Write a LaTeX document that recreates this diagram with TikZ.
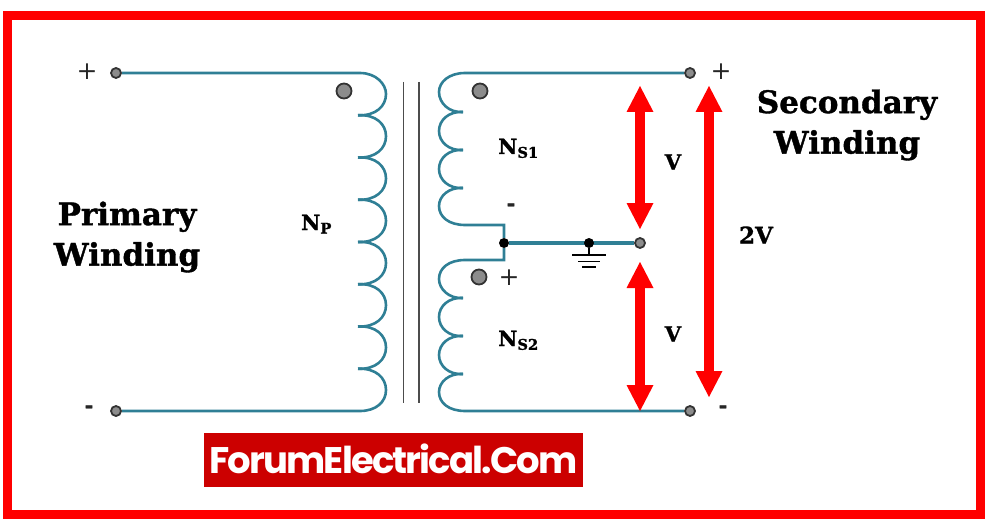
\documentclass[tikz,border=0pt]{standalone}
\usetikzlibrary{backgrounds}
\usepackage{fontspec}
\setmainfont[BoldFeatures={FakeBold=1.2}]{DejaVu Serif}
\newfontfamily\logofont[LetterSpace=-5]{Poppins}
\definecolor{wire}{HTML}{2F7F95}
\definecolor{frame}{HTML}{FF0000}
\definecolor{logo}{HTML}{CC0000}
\tikzset{
  wireline/.style={wire,line width=2.6pt},
  coreline/.style={draw=black!70,line width=1.6pt},
  terminal/.style={circle,draw=black!80,fill=black!45,line width=1.8pt,minimum size=10pt,inner sep=0pt},
  polarity/.style={circle,draw=black!80,fill=black!45,line width=1.8pt,minimum size=15pt,inner sep=0pt},
  junction/.style={circle,fill=black,minimum size=10pt,inner sep=0pt},
  voltarrow/.style={red,line width=9.5pt},
  head/.style={fill=red,draw=none},
  title/.style={font=\bfseries\fontsize{31}{40.5}\selectfont,align=center,inner sep=0pt},
  lab/.style={font=\bfseries\fontsize{21}{24}\selectfont,inner sep=0pt},
  sign/.style={font=\fontsize{25}{25}\selectfont,inner sep=0pt,text=black!85},
  minus/.style={font=\bfseries\fontsize{21}{21}\selectfont,inner sep=0pt,text=black!85},
}
\begin{document}
\begin{tikzpicture}[x=1pt,y=-1pt]
\useasboundingbox (0,0) rectangle (991,532);
\draw[frame,line width=9pt] (7.5,15.5) rectangle (980.5,514);
% terminals
\node[terminal] (pt) at (116,73) {};
\node[terminal] (pb) at (116,411) {};
\node[terminal] (st) at (690,73) {};
\node[terminal] (sb) at (690,411) {};
\node[terminal] (sm) at (640,243) {};
\node[junction] (jc) at (504,243) {};
\node[junction] (gn) at (589,243) {};
\coordinate (gs) at (589,255);
\begin{scope}[on background layer]
% primary
\draw[wireline] (pt) -- (360,73) .. controls (376,73) and (386,84) .. (386,94)
  .. controls (386,106) and (376,116) .. (358,115.25);
\foreach \k in {1,...,6}{
  \pgfmathsetmacro\y{73+42.25*\k}
  \draw[wireline] (358,\y) .. controls (376,\y-1) and (386,\y+9) .. (386,\y+21)
    .. controls (386,\y+33) and (376,\y+43) .. (358,\y+42.25);
}
\draw[wireline] (358,368.75) .. controls (376,368) and (386,378) .. (386,390)
  .. controls (386,402) and (376,411) .. (360,411) -- (pb);
% upper secondary
\draw[wireline] (st) -- (465,73) .. controls (449,73) and (439,82) .. (439,92)
  .. controls (439,103) and (449,113) .. (463,112);
\foreach \y in {112,150}{
  \draw[wireline] (463,\y) .. controls (449,\y-1) and (439,\y+8) .. (439,\y+19)
    .. controls (439,\y+30) and (449,\y+39) .. (463,\y+38);
}
\draw[wireline] (463,188) .. controls (449,187) and (439,196) .. (439,206)
  .. controls (439,217) and (449,225) .. (465,225) -| (jc);
% lower secondary
\draw[wireline] (jc) |- (465,260) .. controls (449,260) and (439,268) .. (439,279)
  .. controls (439,289) and (449,299) .. (463,298);
\foreach \y in {298,336}{
  \draw[wireline] (463,\y) .. controls (449,\y-1) and (439,\y+8) .. (439,\y+19)
    .. controls (439,\y+30) and (449,\y+39) .. (463,\y+38);
}
\draw[wireline] (463,374) .. controls (449,373) and (439,382) .. (439,392)
  .. controls (439,403) and (449,411) .. (465,411) -- (sb);
% centre tap
\draw[wireline,line width=3.6pt] (jc) -- (sm);
\end{scope}
% core
\draw[coreline] (403.5,82) -- (403.5,403);
\draw[coreline] (419,82) -- (419,403);
% ground
\draw[black,line width=1.6pt] (gn) -- (gs);
\draw[black,line width=1.8pt] (572,255) -- (606,255);
\draw[black,line width=1.8pt] (578,261.5) -- (600,261.5);
\draw[black,line width=1.8pt] (582,267) -- (596,267);
% polarity dots
\node[polarity] (d1) at (344,91) {};
\node[polarity] (d2) at (480,91) {};
\node[polarity] (d3) at (479,277) {};
% red arrows
\coordinate (a1t) at (640,86); \coordinate (a1b) at (640,229);
\coordinate (a2t) at (640,262); \coordinate (a2b) at (640,411);
\coordinate (a3t) at (709,86); \coordinate (a3b) at (709,397);
\foreach \t/\b in {a1t/a1b,a2t/a2b,a3t/a3b}{
  \draw[voltarrow] ([yshift=-20pt]\t) -- ([yshift=20pt]\b);
  \fill[head] (\t) -- ++(-13.5,26) -- ++(27,0) -- cycle;
  \fill[head] (\b) -- ++(-13.5,-26) -- ++(27,0) -- cycle;
}
% text
\node[title] (prim) at (127,237) {Primary\\Winding};
\node[title] (sec) at (847,125) {Secondary\\Winding};
\node[lab,anchor=base west] (np) at (301,230) {N\textsubscript{P}};
\node[lab,anchor=base west] (ns1) at (498,154) {N\textsubscript{S1}};
\node[lab,anchor=base west] (ns2) at (498,346) {N\textsubscript{S2}};
\node[lab] (v1) at (673,162) {V};
\node[lab] (v2) at (673,334) {V};
\node[lab,font=\bfseries\fontsize{23}{24}\selectfont] (v3) at (756,235) {2V};
\node[sign] (p1) at (87,72) {+};
\node[minus] (m1) at (89,409) {-};
\node[sign] (p2) at (721,72) {+};
\node[minus] (m2) at (723,409) {-};
\node[sign] (p3) at (509,278) {+};
\node[minus] (m3) at (511,207) {-};
% logo
\node[fill=logo,text=white,minimum width=379pt,minimum height=54pt,inner sep=0pt,font=\logofont\bfseries\fontsize{37}{37}\selectfont] (brand) at (393.5,460) {\raisebox{2pt}{ForumElectrical.Com}};
\end{tikzpicture}
\end{document}
